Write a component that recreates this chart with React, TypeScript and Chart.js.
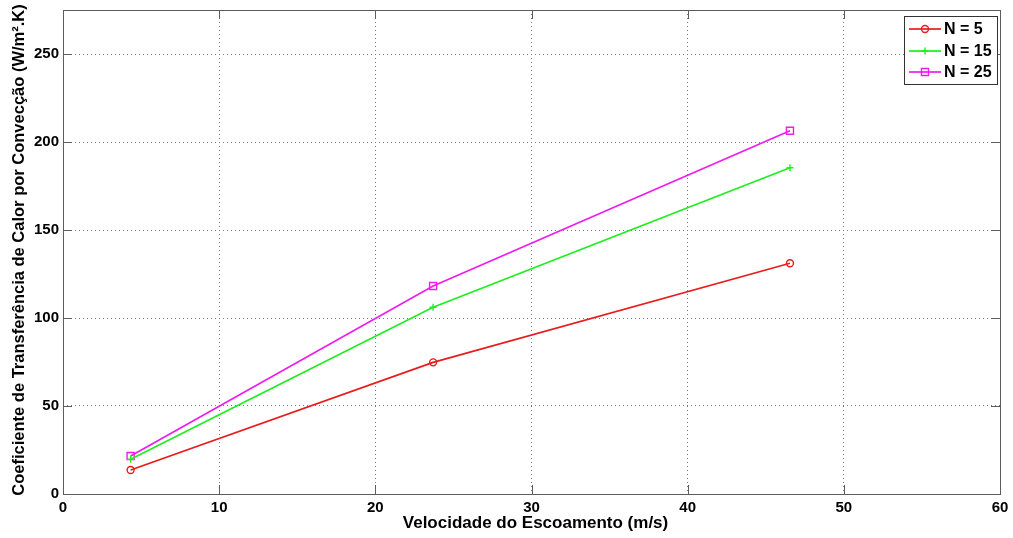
import { useEffect, useRef } from "react";
import { Chart, registerables } from "chart.js";

Chart.register(...registerables);

// Flow velocity (m/s) at each measurement
const velocities = [4.33, 23.7, 46.55];
// Convective heat transfer coefficient (W/m².K) for each N
const hN5 = [13.6, 74.8, 131.1];
const hN15 = [19.7, 106.1, 185.4];
const hN25 = [21.6, 118.2, 206.4];
const seriesLabels = ["N = 5", "N = 15", "N = 25"];
const seriesColors = ["#e81c1c", "#1eee1e", "#ee1cee"];
const xTicksStep = 10;
const yTicksStep = 50;
const xTitle = "Velocidade do Escoamento (m/s)";
const yTitle = "Coeficiente de Transferência de Calor por Convecção (W/m².K)";

const FONT_FAMILY = "'Liberation Sans', Arial, sans-serif";
const FRAME_COLOR = "#5c5c5c";
const GRID_COLOR = "#7a7a7a";

function drawMarker(ctx: CanvasRenderingContext2D, style: string, r: number, x: number, y: number, color: string) {
  ctx.save();
  ctx.strokeStyle = color;
  ctx.lineWidth = 1.4;
  ctx.beginPath();
  if (style === "circle") {
    ctx.arc(x, y, r, 0, Math.PI * 2);
  } else if (style === "rect") {
    const s = r * Math.SQRT1_2;
    ctx.rect(x - s, y - s, 2 * s, 2 * s);
  } else {
    ctx.moveTo(x - r, y);
    ctx.lineTo(x + r, y);
    ctx.moveTo(x, y - r);
    ctx.lineTo(x, y + r);
  }
  ctx.stroke();
  ctx.restore();
}

// Frame with inward ticks, axis titles and a boxed legend in the top-right corner
const decorations = {
  id: "decorations",
  afterDraw(chart: any) {
    const { ctx, chartArea: a, scales } = chart;
    const tickLen = 9;
    ctx.save();
    ctx.strokeStyle = FRAME_COLOR;
    ctx.lineWidth = 1;
    ctx.setLineDash([]);
    ctx.strokeRect(Math.round(a.left) + 0.5, Math.round(a.top) + 0.5, Math.round(a.right - a.left), Math.round(a.bottom - a.top));

    ctx.beginPath();
    for (const t of scales.x.ticks) {
      const px = Math.round(scales.x.getPixelForValue(t.value)) + 0.5;
      ctx.moveTo(px, a.bottom);
      ctx.lineTo(px, a.bottom - tickLen);
      ctx.moveTo(px, a.top);
      ctx.lineTo(px, a.top + tickLen);
    }
    for (const t of scales.y.ticks) {
      const py = Math.round(scales.y.getPixelForValue(t.value)) + 0.5;
      ctx.moveTo(a.left, py);
      ctx.lineTo(a.left + tickLen, py);
      ctx.moveTo(a.right, py);
      ctx.lineTo(a.right - tickLen, py);
    }
    ctx.stroke();

    // axis titles
    ctx.fillStyle = "#000";
    ctx.textAlign = "center";
    ctx.textBaseline = "middle";
    ctx.font = `bold 17px ${FONT_FAMILY}`;
    ctx.fillText(xTitle, (a.left + a.right) / 2 + 4, 523);
    ctx.font = `bold 16.5px ${FONT_FAMILY}`;
    ctx.save();
    ctx.translate(19, (a.top + a.bottom) / 2 - 2);
    ctx.rotate(-Math.PI / 2);
    ctx.fillText(yTitle, 0, 0);
    ctx.restore();

    // legend
    const bx = 904, by = 16, bw = 93, bh = 68;
    ctx.fillStyle = "#fff";
    ctx.fillRect(bx, by, bw, bh);
    ctx.strokeStyle = "#333";
    ctx.strokeRect(bx + 0.5, by + 0.5, bw, bh);
    const rows = [29, 51, 72];
    chart.data.datasets.forEach((ds: any, i: number) => {
      const y = rows[i];
      ctx.strokeStyle = ds.borderColor;
      ctx.lineWidth = ds.borderWidth;
      ctx.beginPath();
      ctx.moveTo(909, y);
      ctx.lineTo(941, y);
      ctx.stroke();
      drawMarker(ctx, ds.pointStyle, ds.pointRadius, 925, y, ds.borderColor);
      ctx.fillStyle = "#000";
      ctx.font = `bold 16px ${FONT_FAMILY}`;
      ctx.textAlign = "left";
      ctx.textBaseline = "middle";
      ctx.fillText(ds.label, 944, y + 1);
    });
    ctx.restore();
  },
};

export default function App() {
  const ref = useRef<HTMLCanvasElement>(null);

  useEffect(() => {
    const canvas = ref.current;
    if (!canvas) return;
    const styles = ["circle", "cross", "rect"];
    const radii = [3.5, 3.5, 5];
    const values = [hN5, hN15, hN25];
    const datasets = values.map((ys, i) => ({
      label: seriesLabels[i],
      data: velocities.map((x, j) => ({ x, y: ys[j] })),
      borderColor: seriesColors[i],
      backgroundColor: seriesColors[i],
      pointStyle: styles[i],
      pointRadius: radii[i],
      pointBorderColor: seriesColors[i],
      pointBackgroundColor: "rgba(0,0,0,0)",
      pointBorderWidth: 1.4,
      borderWidth: 1.7,
      showLine: true,
      tension: 0,
    }));

    const tickFont = { family: FONT_FAMILY, size: 15, weight: "bold" as const };

    const chart = new Chart(canvas, {
      type: "scatter",
      data: { datasets },
      options: {
        responsive: false,
        animation: false,
        devicePixelRatio: 1,
        layout: { padding: { top: 10, right: 13, left: 0, bottom: 0 } },
        plugins: { legend: { display: false }, tooltip: { enabled: false } },
        scales: {
          x: {
            type: "linear",
            min: 0,
            max: 60,
            ticks: { stepSize: xTicksStep, color: "#000", font: tickFont, padding: 5, maxRotation: 0 },
            grid: { color: GRID_COLOR, drawTicks: false, lineWidth: 1 },
            border: { display: false, dash: [1, 3] },
            afterFit: (s: any) => {
              s.height = 44;
              s.paddingLeft = 0;
              s.paddingRight = 0;
            },
          },
          y: {
            type: "linear",
            min: 0,
            max: 275,
            ticks: { stepSize: yTicksStep, color: "#000", font: tickFont, padding: 4 },
            grid: { color: GRID_COLOR, drawTicks: false, lineWidth: 1 },
            border: { display: false, dash: [1, 3] },
            afterBuildTicks: (s: any) => {
              s.ticks = s.ticks.filter((t: any) => t.value % yTicksStep === 0);
            },
            afterFit: (s: any) => {
              s.width = 63;
              s.paddingTop = 0;
              s.paddingBottom = 0;
            },
          },
        },
      },
      plugins: [decorations],
    } as any);

    return () => chart.destroy();
  }, []);

  return (
    <div style={{ position: "absolute", left: 0, top: 0, width: 1013, height: 538, background: "#fff" }}>
      <canvas ref={ref} width={1013} height={538} style={{ display: "block" }} />
    </div>
  );
}
